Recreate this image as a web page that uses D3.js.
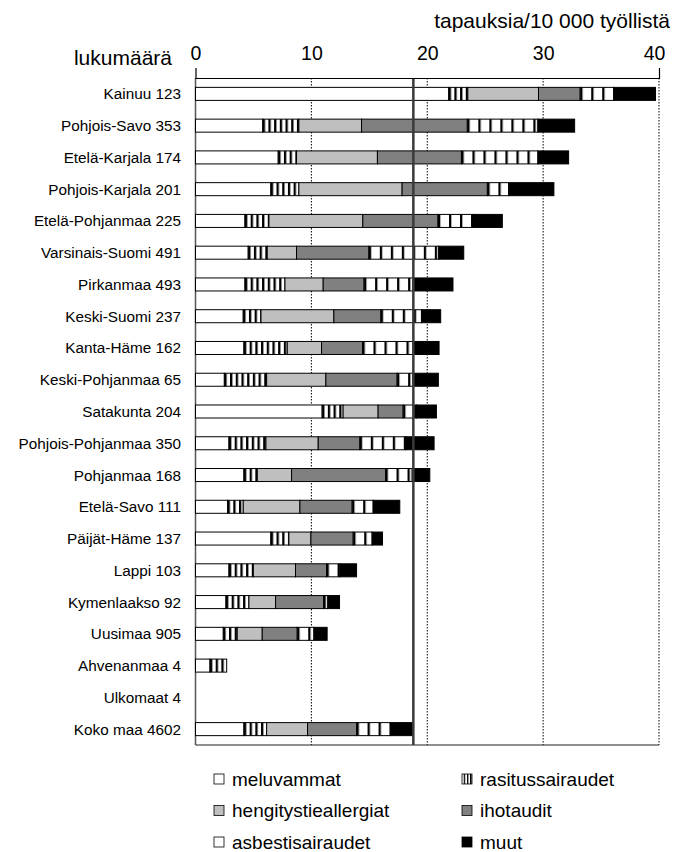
<!DOCTYPE html>
<html>
<head>
<meta charset="utf-8">
<script src="https://cdn.jsdelivr.net/npm/d3@7"></script>
<style>
  html, body { margin: 0; padding: 0; background: #fff; }
  svg { display: block; font-family: "Liberation Sans", Arial, sans-serif; }
</style>
</head>
<body>
<svg id="chart" width="675" height="852"></svg>
<script>
// ---- data ----
const regions = ["Kainuu", "Pohjois-Savo", "Etelä-Karjala", "Pohjois-Karjala", "Etelä-Pohjanmaa",
  "Varsinais-Suomi", "Pirkanmaa", "Keski-Suomi", "Kanta-Häme", "Keski-Pohjanmaa", "Satakunta",
  "Pohjois-Pohjanmaa", "Pohjanmaa", "Etelä-Savo", "Päijät-Häme", "Lappi", "Kymenlaakso",
  "Uusimaa", "Ahvenanmaa", "Ulkomaat", "Koko maa"];
const counts = [123, 353, 174, 201, 225, 491, 493, 237, 162, 65, 204, 350, 168, 111, 137, 103, 92, 905, 4, 4, 4602];

const seriesNames = ["meluvammat", "rasitussairaudet", "hengitystieallergiat", "ihotaudit", "asbestisairaudet", "muut"];
const meluvammat        = [21.85, 5.80, 7.14, 6.50, 4.27, 4.55, 4.27, 4.12, 4.18, 2.49, 10.93, 2.89, 4.18, 2.77, 6.50, 2.89, 2.63, 2.40, 1.25, 0, 4.18];
const rasitussairaudet  = [1.65, 3.12, 1.58, 2.42, 2.07, 1.64, 3.45, 1.53, 3.74, 3.65, 1.81, 3.19, 1.15, 1.35, 1.56, 2.10, 1.98, 1.20, 1.44, 0, 1.96];
const hengitystieallergiat = [6.10, 5.41, 6.98, 8.91, 8.10, 2.53, 3.30, 6.29, 2.96, 5.11, 3.02, 4.51, 2.96, 4.89, 1.90, 3.64, 2.30, 2.16, 0, 0, 3.53];
const ihotaudit         = [3.60, 9.13, 7.25, 7.36, 6.49, 6.24, 3.53, 4.05, 3.53, 6.15, 2.16, 3.59, 8.11, 4.51, 3.65, 2.68, 4.14, 3.02, 0, 0, 4.23];
const asbestisairaudet  = [2.90, 6.09, 6.60, 1.84, 3.07, 6.03, 4.23, 3.51, 4.37, 1.38, 1.15, 3.97, 2.30, 1.81, 1.63, 1.15, 0.37, 1.44, 0, 0, 2.92];
const muut              = [3.60, 3.17, 2.65, 3.90, 2.48, 2.16, 3.44, 1.66, 2.24, 2.18, 1.72, 2.44, 1.52, 2.30, 0.90, 1.44, 1.01, 1.14, 0, 0, 1.90];
const averageValue = 18.8;
const xTicks = [0, 10, 20, 30, 40];
const axisTitle = "tapauksia/10 000 työllistä";
const countTitle = "lukumäärä";

// ---- layout ----
const svg = d3.select("#chart");
const plotLeft = 195.5, plotRight = 659, plotTop = 78, plotBottom = 745;

const x = d3.scaleLinear().domain([0, 40]).range([plotLeft, plotRight]);
const y = d3.scaleBand().domain(regions).range([plotTop, plotBottom]).paddingInner(0.59).paddingOuter(0.295);

const rows = regions.map((r, i) => ({
  region: r, count: counts[i],
  meluvammat: meluvammat[i], rasitussairaudet: rasitussairaudet[i],
  hengitystieallergiat: hengitystieallergiat[i], ihotaudit: ihotaudit[i],
  asbestisairaudet: asbestisairaudet[i], muut: muut[i]
}));
const stacked = d3.stack().keys(seriesNames)(rows);

const defs = svg.append("defs");
let patId = 0;
function stripePattern(startX, period, blackW) {
  const id = "p" + (patId++);
  const p = defs.append("pattern").attr("id", id)
    .attr("patternUnits", "userSpaceOnUse")
    .attr("x", startX).attr("y", 0).attr("width", period).attr("height", 10);
  p.append("rect").attr("width", period).attr("height", 10).attr("fill", "#fff");
  p.append("rect").attr("width", blackW).attr("height", 10).attr("fill", "#000");
  return "url(#" + id + ")";
}
function fillFor(key, startX) {
  if (key === "meluvammat") return "#ffffff";
  if (key === "hengitystieallergiat") return "#bfbfbf";
  if (key === "ihotaudit") return "#808080";
  if (key === "muut") return "#000000";
  if (key === "rasitussairaudet") return stripePattern(startX, 5.7, 2.3);
  if (key === "asbestisairaudet") return stripePattern(startX, 11, 2.3);
}

// gridlines (dotted)
svg.append("g").selectAll("line").data(xTicks.filter(d => d > 0)).join("line")
  .attr("x1", d => x(d)).attr("x2", d => x(d))
  .attr("y1", plotTop).attr("y2", plotBottom)
  .attr("stroke", "#000").attr("stroke-width", 1).attr("stroke-dasharray", "1.5,1.5");

// frame left and bottom
svg.append("line").attr("x1", plotLeft).attr("x2", plotLeft).attr("y1", plotTop).attr("y2", plotBottom)
  .attr("stroke", "#555").attr("stroke-width", 1.5);
svg.append("line").attr("x1", plotLeft).attr("x2", plotRight).attr("y1", plotBottom).attr("y2", plotBottom)
  .attr("stroke", "#222").attr("stroke-width", 1.2);

// bars
const layers = svg.append("g").selectAll("g").data(stacked).join("g");
layers.selectAll("rect").data(d => d.map(s => ({ key: d.key, s: s })).filter(o => o.s[1] - o.s[0] > 0))
  .join("rect")
  .attr("x", o => x(o.s[0]))
  .attr("y", o => y(o.s.data.region))
  .attr("width", o => x(o.s[1]) - x(o.s[0]))
  .attr("height", y.bandwidth())
  .attr("fill", o => fillFor(o.key, x(o.s[0])))
  .attr("stroke", "#000").attr("stroke-width", 1);

// average line
svg.append("line").attr("x1", x(averageValue)).attr("x2", x(averageValue))
  .attr("y1", plotTop).attr("y2", plotBottom)
  .attr("stroke", "#3a3a3a").attr("stroke-width", 2.5);

// top axis
const axis = svg.append("g").attr("transform", `translate(0,${plotTop})`)
  .call(d3.axisTop(x).tickValues(xTicks).tickFormat(d3.format("d")).tickSize(0).tickSizeOuter(10).tickPadding(18));
axis.select(".domain").attr("stroke", "#000").attr("stroke-width", 1.2);
axis.selectAll("text").attr("font-size", 19.5).attr("fill", "#000").attr("font-family", "Liberation Sans, Arial, sans-serif");
axis.selectAll(".tick").filter(d => d === 40).select("text").attr("dx", -5);

// titles
svg.append("text").attr("x", 670).attr("y", 28).attr("text-anchor", "end")
  .attr("font-size", 21).text(axisTitle);
svg.append("text").attr("x", 172).attr("y", 65).attr("text-anchor", "end")
  .attr("font-size", 21).text(countTitle);

// category labels
svg.append("g").selectAll("text").data(rows).join("text")
  .attr("x", 181).attr("y", d => y(d.region) + y.bandwidth() / 2)
  .attr("dy", "0.36em").attr("text-anchor", "end").attr("font-size", 15.3)
  .text(d => d.region + " " + d.count);

// legend
const legendItems = [
  { key: "meluvammat", col: 0, row: 0 },
  { key: "hengitystieallergiat", col: 0, row: 1 },
  { key: "asbestisairaudet", col: 0, row: 2 },
  { key: "rasitussairaudet", col: 1, row: 0 },
  { key: "ihotaudit", col: 1, row: 1 },
  { key: "muut", col: 1, row: 2 }
];
const legX = [214, 462], legY0 = 779, legDy = 31.5;
const leg = svg.append("g").selectAll("g").data(legendItems).join("g")
  .attr("transform", d => `translate(${legX[d.col]},${legY0 + d.row * legDy})`);
leg.append("rect").attr("x", 0).attr("y", -5).attr("width", 10).attr("height", 10)
  .attr("fill", d => d.key === "rasitussairaudet" ? stripePattern(legX[d.col] + 0.5, 3.2, 1.4)
    : d.key === "asbestisairaudet" ? stripePattern(legX[d.col] + 0.5, 20, 2.5) : fillFor(d.key, 0))
  .attr("stroke", "#000").attr("stroke-width", 0.8);
leg.append("text").attr("x", 18).attr("y", 0).attr("dy", "0.36em")
  .attr("font-size", 19).text(d => d.key);
</script>
</body>
</html>
